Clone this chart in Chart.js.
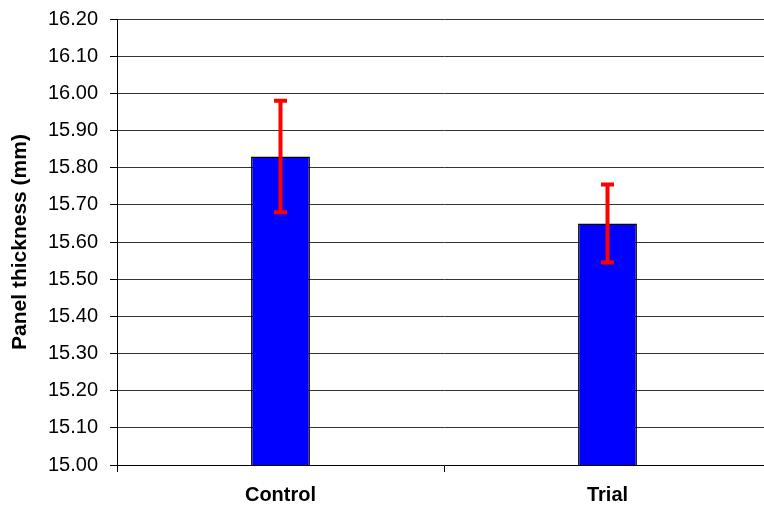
<!DOCTYPE html>
<html lang="en">
<head>
    <meta charset="UTF-8">
    <title>Panel thickness</title>
    <script src="https://cdn.jsdelivr.net/npm/chart.js@4.4.1/dist/chart.umd.min.js"></script>
    <style>
        html, body { margin: 0; padding: 0; background: #fff; overflow: hidden; }
        .wrap { width: 771px; height: 510px; }
    </style>
</head>
<body>
    <div class="wrap">
        <canvas id="chartCanvas"></canvas>
    </div>
    <script>
        // data
        const categories = ['Control', 'Trial'];
        const means = [15.83, 15.65];
        const errors = [0.15, 0.105];
        const yTickValues = [15.0, 15.1, 15.2, 15.3, 15.4, 15.5, 15.6, 15.7, 15.8, 15.9, 16.0, 16.1, 16.2];
        const yTickLabels = ['15.00', '15.10', '15.20', '15.30', '15.40', '15.50', '15.60', '15.70', '15.80', '15.90', '16.00', '16.10', '16.20'];

        const fontFamily = '"Liberation Sans", Arial, sans-serif';

        // red error bars with caps, drawn on top of the bars
        const errorBars = {
            id: 'errorBars',
            afterDatasetsDraw(chart) {
                const ctx = chart.ctx;
                const y = chart.scales.y;
                const meta = chart.getDatasetMeta(0);
                ctx.save();
                ctx.strokeStyle = '#ff0000';
                ctx.lineWidth = 4;
                meta.data.forEach((bar, i) => {
                    const top = y.getPixelForValue(means[i] + errors[i]);
                    const bot = y.getPixelForValue(means[i] - errors[i]);
                    ctx.beginPath();
                    ctx.moveTo(bar.x, top);
                    ctx.lineTo(bar.x, bot);
                    ctx.moveTo(bar.x - 6.5, top);
                    ctx.lineTo(bar.x + 6.5, top);
                    ctx.moveTo(bar.x - 6.5, bot);
                    ctx.lineTo(bar.x + 6.5, bot);
                    ctx.stroke();
                });
                ctx.restore();
            }
        };

        let mychart = document.getElementById('chartCanvas').getContext('2d');
        let chart = new Chart(mychart, {
            type: 'bar',
            data: {
                labels: categories,
                datasets: [{
                    data: means,
                    backgroundColor: '#0000ff',
                    borderColor: '#000000',
                    borderWidth: 1.5,
                    borderSkipped: 'bottom',
                    barPercentage: 0.18,
                    categoryPercentage: 1
                }]
            },
            options: {
                responsive: true,
                maintainAspectRatio: false,
                animation: false,
                layout: { padding: { top: 19, right: 0, bottom: 0, left: 0 } },
                plugins: {
                    legend: { display: false },
                    tooltip: { enabled: false }
                },
                scales: {
                    x: {
                        offset: true,
                        afterFit: (s) => { s.height = 45; s.paddingLeft = 0; s.paddingRight = 0; },
                        grid: {
                            offset: true,
                            drawOnChartArea: false,
                            drawTicks: true,
                            tickLength: 7,
                            color: '#000000'
                        },
                        border: { color: '#000000', width: 1 },
                        ticks: {
                            color: '#000000',
                            padding: 11,
                            font: { family: fontFamily, size: 20, weight: 'bold' }
                        }
                    },
                    y: {
                        min: 15,
                        max: 16.2,
                        afterFit: (s) => { s.width = 117; s.paddingTop = 0; s.paddingBottom = 0; },
                        afterBuildTicks: (s) => { s.ticks = yTickValues.map(v => ({ value: v })); },
                        grid: {
                            color: '#333333',
                            lineWidth: 1,
                            tickLength: 7,
                            tickColor: '#000000'
                        },
                        border: { color: '#000000', width: 1 },
                        ticks: {
                            color: '#000000',
                            padding: 12,
                            font: { family: fontFamily, size: 20 },
                            callback: (v, i) => yTickLabels[i]
                        },
                        title: {
                            display: true,
                            text: 'Panel thickness (mm)',
                            color: '#000000',
                            padding: { top: 8, bottom: 0 },
                            font: { family: fontFamily, size: 21, weight: 'bold' }
                        }
                    }
                }
            },
            plugins: [errorBars]
        });
    </script>
</body>
</html>
